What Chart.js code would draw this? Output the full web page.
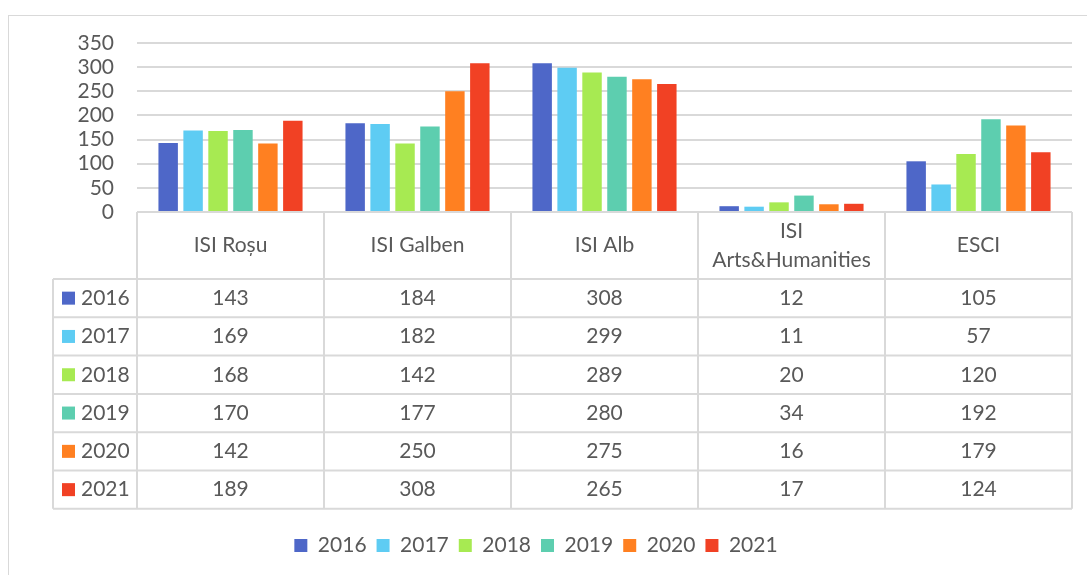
<!DOCTYPE html>
<html><head><meta charset="utf-8">
<script src="https://cdn.jsdelivr.net/npm/chart.js@4"></script>
<style>
html,body{margin:0;padding:0;background:#fff;overflow:hidden;}
#wrap{position:relative;width:1087px;height:575px;}
#frame{position:absolute;left:8px;top:15px;width:1100px;height:600px;border:1.5px solid #d9d9d9;box-sizing:border-box;}
canvas{position:absolute;left:0;top:0;}
</style></head><body>
<div id="wrap"><div id="frame"></div><canvas id="c" width="1087" height="575"></canvas></div>
<script>
const categories = ['ISI Roșu', 'ISI Galben', 'ISI Alb', ['ISI', 'Arts&Humanities'], 'ESCI'];
const years = ['2016', '2017', '2018', '2019', '2020', '2021'];
const v2016 = [143, 184, 308, 12, 105];
const v2017 = [169, 182, 299, 11, 57];
const v2018 = [168, 142, 289, 20, 120];
const v2019 = [170, 177, 280, 34, 192];
const v2020 = [142, 250, 275, 16, 179];
const v2021 = [189, 308, 265, 17, 124];
const yTicks = [0, 50, 100, 150, 200, 250, 300, 350];
const colors = ['#4E67C8', '#5ECCF3', '#A7EA52', '#5DCEAF', '#FF8021', '#F14124'];

const seriesValues = [v2016, v2017, v2018, v2019, v2020, v2021];
const FONT = 'Lato, "Liberation Sans", sans-serif';
const FSIZE = 21;
const TXT = '#595959';
const LINE = '#d9d9d9';

const tablePlugin = {
  id: 'dataTable',
  afterDraw(chart) {
    const ctx = chart.ctx;
    const xs = chart.scales.x;
    const area = chart.chartArea;
    const colW = xs.getPixelForValue(1) - xs.getPixelForValue(0);
    const top = area.bottom;
    const headH = 67;
    const rowH = 38.3;
    const leftX = 53;
    const n = years.length;
    const bottom = top + headH + rowH * n;
    ctx.save();
    ctx.strokeStyle = LINE;
    ctx.lineWidth = 2;
    ctx.beginPath();
    ctx.moveTo(area.left, top); ctx.lineTo(area.right, top);
    for (let r = 0; r <= n; r++) {
      const y = top + headH + rowH * r;
      ctx.moveTo(leftX, y); ctx.lineTo(area.right, y);
    }
    ctx.moveTo(leftX, top + headH); ctx.lineTo(leftX, bottom);
    for (let i = 0; i <= categories.length; i++) {
      const x = xs.getPixelForValue(0) - colW / 2 + colW * i;
      ctx.moveTo(x, top); ctx.lineTo(x, bottom);
    }
    ctx.stroke();

    ctx.fillStyle = TXT;
    ctx.font = FSIZE + 'px ' + FONT;
    ctx.textAlign = 'center';
    ctx.textBaseline = 'middle';
    categories.forEach((c, i) => {
      const cx = xs.getPixelForValue(i);
      const lines = Array.isArray(c) ? c : [c];
      const lh = 29;
      const y0 = top + headH / 2 - (lines.length - 1) * lh / 2;
      lines.forEach((l, k) => ctx.fillText(l, cx, y0 + k * lh));
    });
    years.forEach((yr, r) => {
      const cy = top + headH + rowH * r + rowH / 2;
      ctx.fillStyle = colors[r];
      ctx.fillRect(62, cy - 6.5, 13, 13);
      ctx.fillStyle = TXT;
      ctx.textAlign = 'left';
      ctx.fillText(yr, 81, cy);
      ctx.textAlign = 'center';
      seriesValues[r].forEach((v, i) => {
        ctx.fillText(String(v), xs.getPixelForValue(i), cy);
      });
    });
    ctx.restore();
  }
};

new Chart(document.getElementById('c'), {
  type: 'bar',
  data: {
    labels: categories,
    datasets: years.map((y, i) => ({
      label: y,
      data: seriesValues[i],
      backgroundColor: colors[i],
      borderWidth: 0,
      categoryPercentage: 0.8,
      barPercentage: 0.78
    }))
  },
  options: {
    responsive: false,
    animation: false,
    devicePixelRatio: 1,
    layout: { padding: { top: 43, right: 15, bottom: 9, left: 0 } },
    plugins: {
      tooltip: { enabled: false },
      legend: {
        position: 'bottom',
        labels: {
          boxWidth: 13, boxHeight: 13, padding: 10,
          color: TXT, font: { family: FONT, size: FSIZE }
        }
      }
    },
    scales: {
      x: {
        grid: { display: false },
        border: { display: false },
        ticks: { display: false },
        afterFit(s) { s.height = 313; }
      },
      y: {
        min: 0, max: 350,
        afterBuildTicks(s) { s.ticks = yTicks.map(v => ({ value: v })); },
        afterFit(s) { s.width = 137; },
        grid: { color: LINE, lineWidth: 2, drawTicks: false },
        border: { display: false },
        ticks: { padding: 23, autoSkip: false, color: TXT, font: { family: FONT, size: FSIZE } }
      }
    }
  },
  plugins: [tablePlugin]
});
</script>
</body></html>
